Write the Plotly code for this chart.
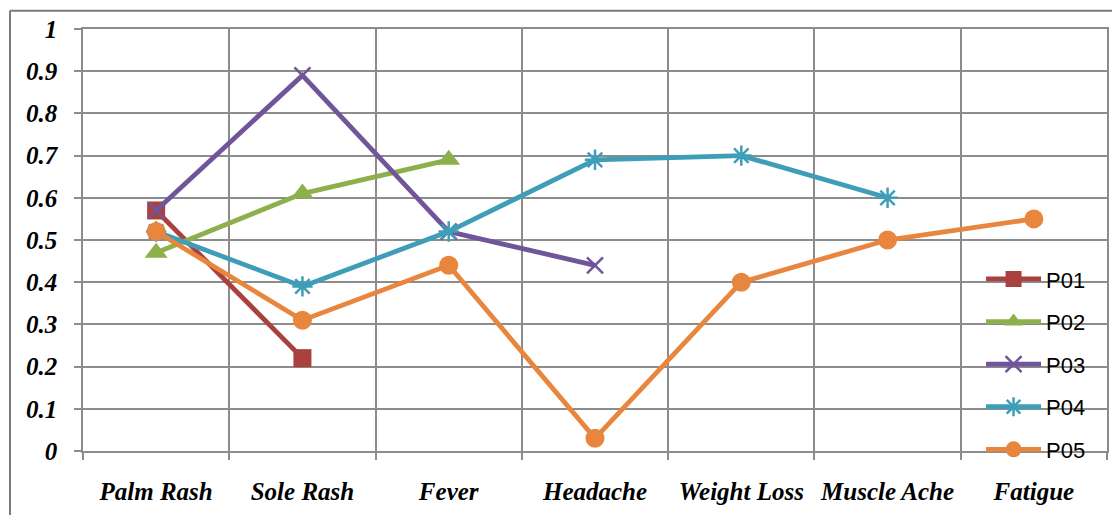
import plotly.graph_objects as go

# Symptom categories along the x axis
symptoms = ["Palm Rash", "Sole Rash", "Fever", "Headache",
            "Weight Loss", "Muscle Ache", "Fatigue"]

# Per-patient scores (None where a symptom was not recorded)
p01 = [0.57, 0.22, None, None, None, None, None]
p02 = [0.47, 0.61, 0.69, None, None, None, None]
p03 = [0.57, 0.89, 0.52, 0.44, None, None, None]
p04 = [0.52, 0.39, 0.52, 0.69, 0.70, 0.60, None]
p05 = [0.52, 0.31, 0.44, 0.03, 0.40, 0.50, 0.55]

y_ticks = [0, 0.1, 0.2, 0.3, 0.4, 0.5, 0.6, 0.7, 0.8, 0.9, 1]
y_tick_text = ["0", "0.1", "0.2", "0.3", "0.4", "0.5", "0.6", "0.7", "0.8", "0.9", "1"]

series = [
    ("P01", p01, "#A9413E", dict(symbol="square", size=18)),
    ("P02", p02, "#8DB04C", dict(symbol="triangle-up", size=20)),
    ("P03", p03, "#70559A", dict(symbol="x-thin", size=16, line=dict(width=2.5, color="#70559A"))),
    ("P04", p04, "#3E9EB8", dict(symbol="asterisk", size=17, line=dict(width=2.5, color="#3E9EB8"))),
    ("P05", p05, "#E8863E", dict(symbol="circle", size=19)),
]

fig = go.Figure()
for name, vals, color, marker in series:
    m = dict(color=color, **marker)
    fig.add_trace(go.Scatter(
        x=symptoms, y=vals, name=name, mode="lines+markers",
        line=dict(color=color, width=4.8), marker=m,
        legendgroup=name, connectgaps=False,
    ))

grid = "#8C8C8C"
label_font = dict(family="Liberation Serif", size=25, color="black",
                  weight="bold", style="italic")

fig.update_layout(
    width=1112, height=515,
    margin=dict(l=83, r=5, t=29, b=64, autoexpand=False),
    paper_bgcolor="white", plot_bgcolor="white",
    showlegend=True,
    legend=dict(x=0.877, y=0.457, xanchor="left", yanchor="top",
                bgcolor="rgba(0,0,0,0)", tracegroupgap=11, itemwidth=55,
                font=dict(family="Liberation Sans", size=22, color="black")),
    xaxis=dict(
        type="category", range=[-0.5, 6.5], tickson="boundaries",
        showgrid=True, gridcolor=grid, gridwidth=1.5,
        showline=True, linecolor=grid, linewidth=1.5, mirror=True,
        ticks="outside", ticklen=7, tickcolor=grid, tickwidth=1.5,
        tickfont=label_font, ticklabelstandoff=17, tickangle=0,
        automargin=False,
    ),
    yaxis=dict(
        range=[0, 1], tickvals=y_ticks, ticktext=y_tick_text,
        showgrid=True, gridcolor=grid, gridwidth=1.5, zeroline=False,
        showline=True, linecolor=grid, linewidth=1.5, mirror=True,
        ticks="outside", ticklen=7, tickcolor=grid, tickwidth=1.5,
        tickfont=label_font, ticklabelstandoff=12, automargin=False,
    ),
    shapes=[
        # outer chart frame (left and top edges)
        dict(type="line", xref="paper", yref="paper",
             x0=-0.0713, x1=-0.0713, y0=-0.3, y1=1.043,
             line=dict(color="#7A7A7A", width=2)),
        dict(type="line", xref="paper", yref="paper",
             x0=-0.0713, x1=1.1, y0=1.043, y1=1.043,
             line=dict(color="#7A7A7A", width=2)),
    ],
)

fig.write_html("out.html")
